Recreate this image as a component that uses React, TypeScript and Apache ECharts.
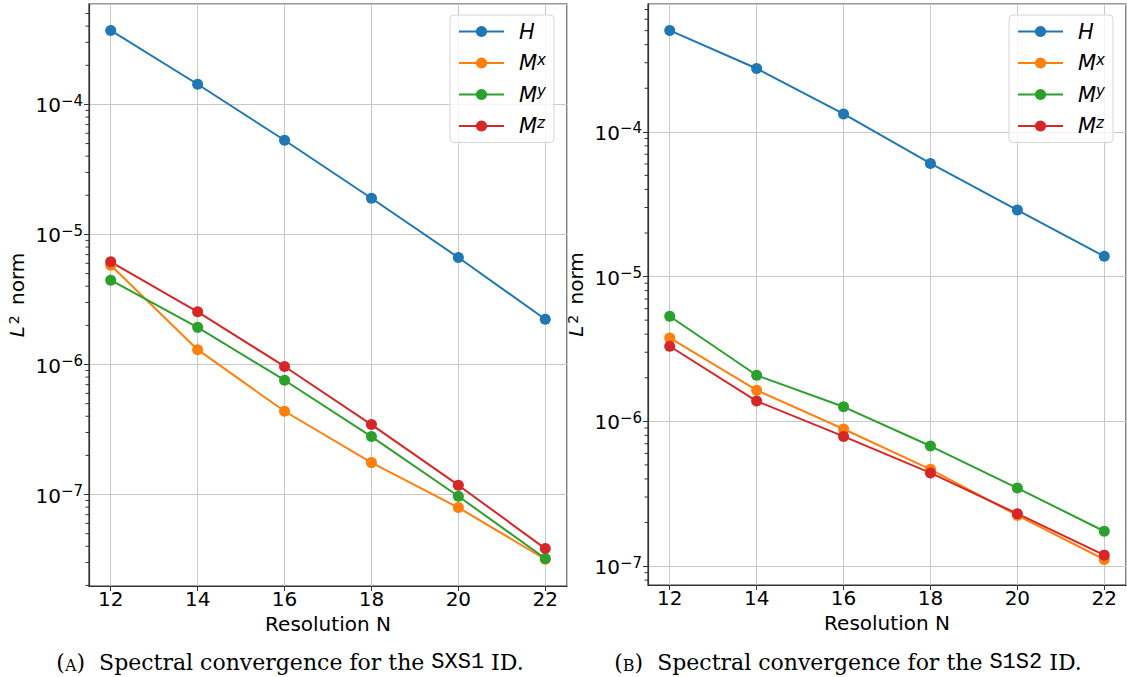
import React, { useEffect, useRef } from 'react';
import * as echarts from 'echarts';

// ---------- data ----------
const resolutions = [12, 14, 16, 18, 20, 22];
const seriesNames = ['H', 'Mx', 'My', 'Mz'];
const seriesColors = ['#1f77b4', '#ff7f0e', '#2ca02c', '#d62728'];

// Panel A: SXS1 ID
const sxs1H = [3.71e-4, 1.43e-4, 5.3e-5, 1.9e-5, 6.65e-6, 2.23e-6];
const sxs1Mx = [5.8e-6, 1.3e-6, 4.37e-7, 1.76e-7, 7.94e-8, 3.18e-8];
const sxs1My = [4.45e-6, 1.93e-6, 7.57e-7, 2.79e-7, 9.7e-8, 3.22e-8];
const sxs1Mz = [6.16e-6, 2.54e-6, 9.66e-7, 3.45e-7, 1.18e-7, 3.84e-8];

// Panel B: S1S2 ID
const s1s2H = [5.02e-4, 2.74e-4, 1.33e-4, 6.05e-5, 2.88e-5, 1.38e-5];
const s1s2Mx = [3.77e-6, 1.64e-6, 8.85e-7, 4.66e-7, 2.24e-7, 1.11e-7];
const s1s2My = [5.32e-6, 2.08e-6, 1.26e-6, 6.75e-7, 3.46e-7, 1.74e-7];
const s1s2Mz = [3.3e-6, 1.38e-6, 7.87e-7, 4.4e-7, 2.3e-7, 1.19e-7];

// axis ranges
const xRange = [11.5, 22.5];
const yRangeA = [1.98e-8, 5.92e-4];
const yRangeB = [7.4e-8, 7.64e-4];
const decades = [-8, -7, -6, -5, -4, -3];
const minorMultipliers = [2, 3, 4, 5, 6, 7, 8, 9];

const legendLabels: Record<string, string> = {
  H: '{i|H}',
  Mx: '{i|M}{s|x}',
  My: '{i|M}{s|y}',
  Mz: '{i|M}{s|z}',
};

const captionA = { label: 'A', id: 'SXS1' };
const captionB = { label: 'B', id: 'S1S2' };

const SANS = 'DejaVu Sans';

function minorTicks(range: number[]) {
  const out: number[][] = [];
  decades.forEach((d) => {
    minorMultipliers.forEach((m) => {
      const v = m * Math.pow(10, d);
      if (v > range[0] && v < range[1]) out.push([xRange[0], v]);
    });
  });
  return out;
}

function yLabelFormatter(v: number) {
  const e = Math.round(Math.log10(v));
  return `{b|10}{s|\u2212${Math.abs(e)}}`;
}

const yRich = {
  b: { fontSize: 20, fontFamily: SANS, color: '#000', lineHeight: 22, verticalAlign: 'bottom' },
  s: { fontSize: 15, fontFamily: SANS, color: '#000', lineHeight: 13, verticalAlign: 'top' },
};

function makeAxes(gi: number, yRange: number[]) {
  const xAxis = {
    type: 'value',
    gridIndex: gi,
    min: xRange[0],
    max: xRange[1],
    splitNumber: 5,
    name: 'Resolution N',
    nameLocation: 'middle',
    nameGap: 28,
    nameMoveOverlap: false,
    nameTextStyle: { fontSize: 20, fontFamily: SANS, color: '#000', lineHeight: 20 },
    axisLine: { show: true, lineStyle: { color: '#333', width: 1.2 } },
    axisTick: { show: true, length: 5, lineStyle: { color: '#333' } },
    axisLabel: {
      fontSize: 20,
      lineHeight: 20,
      fontFamily: SANS,
      color: '#000',
      margin: 3,
      showMinLabel: false,
      showMaxLabel: false,
    },
    splitLine: { show: true, lineStyle: { color: '#c8c8c8', width: 1 } },
  };
  const yAxis = {
    type: 'log',
    logBase: 10,
    gridIndex: gi,
    min: yRange[0],
    max: yRange[1],
    name: '{i|L}{s|2} norm',
    nameLocation: 'middle',
    nameGap: 62,
    nameTextStyle: {
      fontSize: 20,
      fontFamily: SANS,
      color: '#000',
      rich: {
        i: { fontSize: 20, fontFamily: SANS, fontStyle: 'italic', color: '#000', lineHeight: 20 },
        s: { fontSize: 14, fontFamily: SANS, color: '#000', lineHeight: 12, verticalAlign: 'top', padding: [0, 4, 0, 2] },
      },
    },
    axisLine: { show: true, lineStyle: { color: '#333', width: 1.2 } },
    axisTick: { show: true, length: 5, lineStyle: { color: '#333' } },
    axisLabel: {
      formatter: yLabelFormatter,
      rich: yRich,
      margin: 6,
      showMinLabel: false,
      showMaxLabel: false,
    },
    splitLine: { show: true, lineStyle: { color: '#c8c8c8', width: 1 } },
  };
  return { xAxis, yAxis };
}

function lineSeries(name: string, color: string, values: number[], gi: number) {
  return {
    type: 'line',
    name,
    xAxisIndex: gi,
    yAxisIndex: gi,
    data: resolutions.map((x, i) => [x, values[i]]),
    symbol: 'circle',
    symbolSize: 11,
    showSymbol: true,
    color,
    lineStyle: { color, width: 2 },
    itemStyle: { color },
    emphasis: { disabled: true },
  };
}

function minorTickSeries(gi: number, range: number[]) {
  return {
    type: 'custom',
    name: 'minor' + gi,
    xAxisIndex: gi,
    yAxisIndex: gi,
    clip: false,
    silent: true,
    z: 5,
    data: minorTicks(range),
    renderItem: (params: any, api: any) => {
      const p = api.coord([api.value(0), api.value(1)]);
      return {
        type: 'line',
        shape: { x1: p[0] - 3.5, y1: p[1], x2: p[0], y2: p[1] },
        style: { stroke: '#333', lineWidth: 1 },
      };
    },
  };
}

function legendFor(left: number) {
  return {
    data: seriesNames,
    orient: 'vertical',
    left,
    top: 15,
    padding: [6, 8, 6, 8],
    itemGap: 10,
    itemWidth: 45,
    itemHeight: 14,
    backgroundColor: 'rgba(255,255,255,0.8)',
    borderColor: '#d6d6d6',
    borderWidth: 1,
    borderRadius: 4,
    selectedMode: false,
    formatter: (n: string) => legendLabels[n],
    textStyle: {
      rich: {
        i: { fontSize: 21, fontFamily: SANS, fontStyle: 'italic', color: '#000', lineHeight: 22, padding: [0, 0, 0, 10] },
        s: { fontSize: 15, fontFamily: SANS, fontStyle: 'italic', color: '#000', lineHeight: 13, verticalAlign: 'top' },
      },
    },
  };
}

function caption(cx: number, c: { label: string; id: string }) {
  const serif = 'DejaVu Serif';
  return {
    type: 'text',
    x: cx,
    y: 660,
    style: {
      text: `{p|(}{sc|${c.label}}{p|)  Spectral convergence for the }{tt|${c.id}}{p| ID.}`,
      align: 'center',
      verticalAlign: 'middle',
      textAlign: 'center',
      textVerticalAlign: 'middle',
      rich: {
        p: { fontSize: 22, fontFamily: serif, fill: '#000', color: '#000', lineHeight: 26, verticalAlign: 'bottom' },
        sc: { fontSize: 16, fontFamily: serif, fill: '#000', color: '#000', lineHeight: 24, verticalAlign: 'bottom' },
        tt: { fontSize: 22, fontFamily: 'Liberation Mono', fill: '#000', color: '#000', lineHeight: 26, verticalAlign: 'bottom' },
      },
    },
  };
}

export default function App() {
  const ref = useRef<HTMLDivElement>(null);
  useEffect(() => {
    if (!ref.current) return;
    const chart = echarts.init(ref.current, null, { renderer: 'svg' });
    const a = makeAxes(0, yRangeA);
    const b = makeAxes(1, yRangeB);
    const setsA = [sxs1H, sxs1Mx, sxs1My, sxs1Mz];
    const setsB = [s1s2H, s1s2Mx, s1s2My, s1s2Mz];
    chart.setOption({
      animation: false,
      backgroundColor: '#fff',
      grid: [
        { left: 89, top: 4, width: 478, height: 582, show: true, borderColor: '#333', borderWidth: 1.2, backgroundColor: 'transparent' },
        { left: 648, top: 4, width: 478, height: 581, show: true, borderColor: '#333', borderWidth: 1.2, backgroundColor: 'transparent' },
      ],
      xAxis: [a.xAxis, b.xAxis],
      yAxis: [a.yAxis, b.yAxis],
      legend: [legendFor(450), legendFor(1009)],
      series: [
        ...seriesNames.map((n, i) => lineSeries(n, seriesColors[i], setsA[i], 0)),
        ...seriesNames.map((n, i) => lineSeries(n, seriesColors[i], setsB[i], 1)),
        minorTickSeries(0, yRangeA),
        minorTickSeries(1, yRangeB),
      ],
      graphic: [caption(290, captionA), caption(848, captionB)],
    });
    return () => chart.dispose();
  }, []);
  return (
    <div
      ref={ref}
      style={{ position: 'absolute', left: 0, top: 0, width: 1127, height: 677 }}
    />
  );
}
